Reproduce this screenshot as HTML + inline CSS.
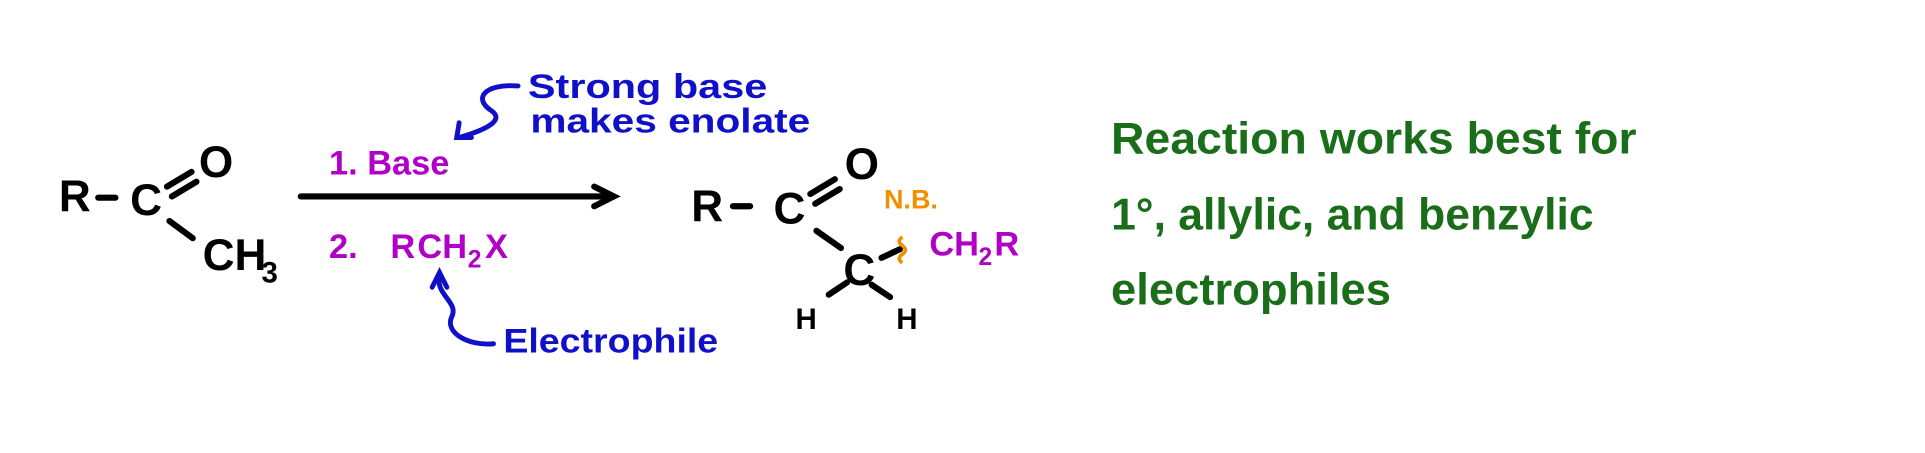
<!DOCTYPE html>
<html><head><meta charset="utf-8"><style>
html,body{margin:0;padding:0;background:#fff;}
svg{display:block}
text{font-family:"Liberation Sans",sans-serif;font-weight:bold;}
</style></head><body>
<svg width="1925" height="453" viewBox="0 0 1925 453" xmlns="http://www.w3.org/2000/svg">
<g transform="scale(1.2277)">
<g fill="#000" font-size="36">
<text x="48" y="172">R</text>
<text x="106" y="175">C</text>
<text x="162" y="144">O</text>
<text x="165" y="220">CH</text><text x="213" y="230" font-size="24">3</text>
<text x="563" y="180">R</text>
<text x="630" y="182">C</text>
<text x="688" y="146">O</text>
<text x="687" y="232">C</text>
<text x="648" y="268" font-size="24">H</text>
<text x="730" y="268" font-size="24">H</text>
</g>
<g stroke="#000" stroke-width="5" stroke-linecap="round" fill="none">
<line x1="80" y1="161" x2="94" y2="161"/>
<line x1="136" y1="152" x2="156" y2="140"/><line x1="140" y1="160" x2="160" y2="148"/>
<line x1="138" y1="180" x2="157" y2="194"/>
<line x1="597" y1="168" x2="611" y2="168"/>
<line x1="660" y1="158" x2="680" y2="146"/><line x1="664" y1="166" x2="684" y2="154"/>
<line x1="665" y1="188" x2="685" y2="202"/>
<line x1="675" y1="240" x2="690" y2="230"/>
<line x1="710" y1="232" x2="725" y2="242"/>
<line x1="718" y1="210" x2="733" y2="203"/>
<line x1="245" y1="160" x2="498" y2="160"/>
<polyline points="484,152 500,160 484,168"/>
</g>
<g fill="#b000c8" font-size="28">
<text x="268" y="142">1. Base</text>
<text x="268" y="210">2.</text><text x="318" y="210">R</text><text x="340" y="210">CH</text><text x="381" y="218" font-size="20">2</text><text x="395" y="210">X</text>
<text x="757" y="208">CH</text><text x="797" y="216" font-size="20">2</text><text x="810" y="208">R</text>
</g>
<text x="720" y="170" fill="#f09000" font-size="22">N.B.</text>
<path d="M735,193 q-5,4 0,7 q5,4 0,7 q-5,4 0,7" stroke="#f09000" stroke-width="3" fill="none"/>
<g fill="#1010c8" font-size="28">
<text x="430" y="80" textLength="195" lengthAdjust="spacingAndGlyphs">Strong base</text>
<text x="432" y="108" textLength="228" lengthAdjust="spacingAndGlyphs">makes enolate</text>
<text x="410" y="287" textLength="175" lengthAdjust="spacingAndGlyphs">Electrophile</text>
</g>
<g stroke="#1010c8" stroke-width="4" fill="none" stroke-linecap="round">
<path d="M422,70 C395,68 385,80 400,90 C412,98 395,106 374,112"/>
<polyline points="374,100 372,112 384,112"/>
<path d="M402,280 C380,282 362,270 368,258 C374,246 354,240 358,224"/>
<polyline points="352,234 358,222 364,234"/>
</g>
<g fill="#1a6e1a" font-size="36">
<text x="905" y="125" textLength="428" lengthAdjust="spacingAndGlyphs">Reaction works best for</text>
<text x="905" y="187" textLength="393" lengthAdjust="spacingAndGlyphs">1°, allylic, and benzylic</text>
<text x="905" y="248" textLength="228" lengthAdjust="spacingAndGlyphs">electrophiles</text>
</g>
</g>
</svg>
</body></html>
